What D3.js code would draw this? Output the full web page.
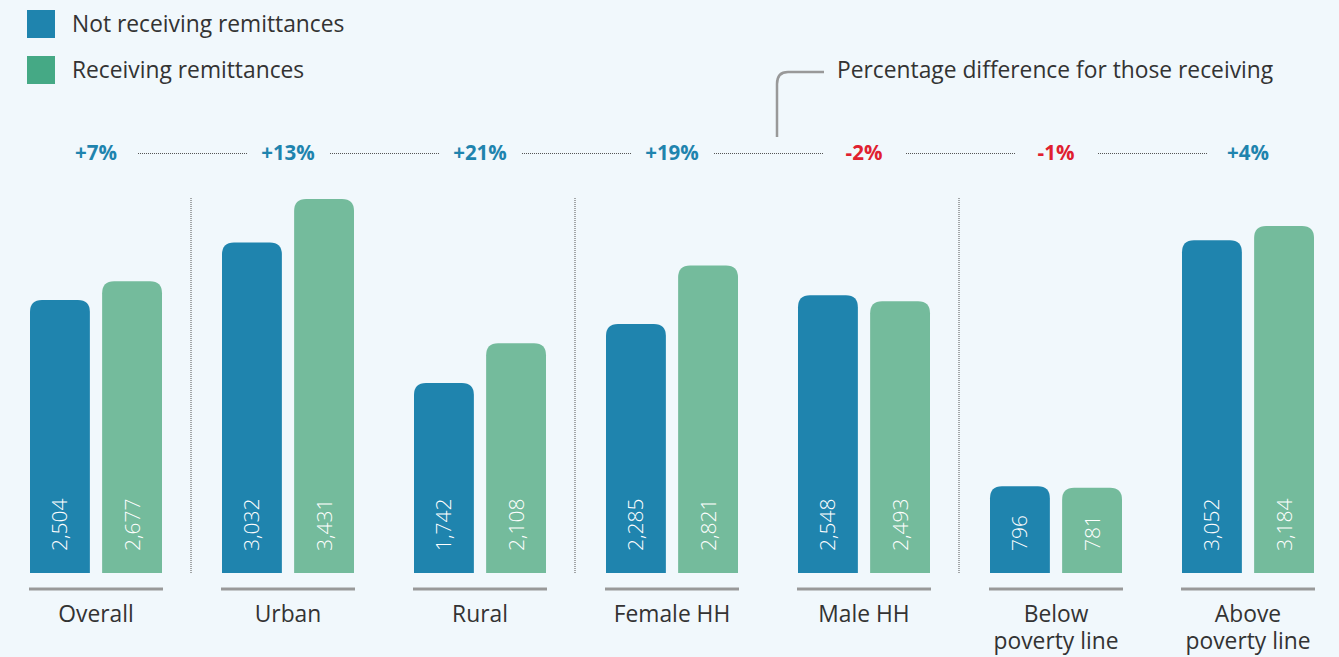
<!DOCTYPE html>
<html><head><meta charset="utf-8">
<script src="https://cdn.jsdelivr.net/npm/d3@7"></script>
<style>
html,body{margin:0;padding:0;background:#f1f8fc;}
svg{display:block;font-family:"Open Sans",sans-serif;}
</style></head>
<body>
<svg id="chart" width="1339" height="657"></svg>
<script>
const categories = ["Overall","Urban","Rural","Female HH","Male HH","Below\npoverty line","Above\npoverty line"];
const notReceiving = [2504,3032,1742,2285,2548,796,3052];
const receiving = [2677,3431,2108,2821,2493,781,3184];
const pctDiff = ["+7%","+13%","+21%","+19%","-2%","-1%","+4%"];
const seriesNames = ["Not receiving remittances","Receiving remittances"];
const separatorsAfter = [0,2,4]; // dotted separators after these groups

const svg = d3.select("#chart");
const blue = "#1f84ae", green = "#74bb9c", legendGreen = "#45a985";

const x0 = d3.scaleBand().domain(categories).range([-2, 1342]).paddingInner(0).paddingOuter(0);
const x1 = d3.scaleBand().domain([0,1]).range([32, 164]).paddingInner(0.17);
const y = d3.scaleLinear().domain([0, 3431]).range([573, 199]);

function topRounded(x, yTop, w, h, r){
  r = Math.min(r, h, w/2);
  return `M${x},${yTop+h}V${yTop+r}Q${x},${yTop} ${x+r},${yTop}H${x+w-r}Q${x+w},${yTop} ${x+w},${yTop+r}V${yTop+h}Z`;
}

const groups = svg.selectAll("g.grp").data(categories).join("g")
  .attr("transform", d => `translate(${x0(d)},0)`);

const cxLocal = (x1(0)+x1(1)+x1.bandwidth())/2;

categories.forEach((c,i)=>{
  const g = d3.select(groups.nodes()[i]);
  [[notReceiving[i],blue],[receiving[i],green]].forEach(([v,col],k)=>{
    const bx = x1(k), bw = x1.bandwidth();
    g.append("path").attr("d", topRounded(bx, y(v), bw, y(0)-y(v), 12)).attr("fill", col);
    g.append("text").attr("transform", `translate(${bx+bw/2+7.5},${y(0)-22}) rotate(-90)`)
      .attr("fill","#fff").attr("font-size",21).attr("font-weight",300).attr("text-anchor","start")
      .text(d3.format(",")(v));
  });
  g.append("line").attr("x1", x1(0)-1).attr("x2", x1(1)+x1.bandwidth()+1)
    .attr("y1",589).attr("y2",589).attr("stroke","#999").attr("stroke-width",3);
  const lines = c.split("\n");
  const t = g.append("text").attr("x",cxLocal).attr("y",622).attr("text-anchor","middle")
      .attr("font-size",22.8).attr("fill","#333");
  lines.forEach((ln,j)=>{
    t.append("tspan").attr("x",cxLocal).attr("dy", j===0 ? 0 : 27).text(ln);
  });
  g.append("text").attr("x",cxLocal).attr("y",160).attr("text-anchor","middle")
    .attr("font-size",20.5).attr("font-weight",700)
    .attr("fill", pctDiff[i].startsWith("-") ? "#e0202f" : "#1f84ae").text(pctDiff[i]);
});

const centers = categories.map(c => x0(c) + cxLocal);
for(let i=0;i<centers.length-1;i++){
  svg.append("line").attr("x1",centers[i]+42).attr("x2",centers[i+1]-40)
    .attr("y1",153.5).attr("y2",153.5).attr("stroke","#555").attr("stroke-width",1)
    .attr("stroke-dasharray","1,1");
}
separatorsAfter.forEach(i=>{
  const sx = (centers[i]+centers[i+1])/2 - 1;
  svg.append("line").attr("x1",sx).attr("x2",sx).attr("y1",198).attr("y2",574)
    .attr("stroke","#555").attr("stroke-width",1).attr("stroke-dasharray","1,1");
});

[blue, legendGreen].forEach((col,k)=>{
  svg.append("rect").attr("x",27).attr("y",10+k*46).attr("width",28).attr("height",28).attr("fill",col);
  svg.append("text").attr("x",72).attr("y",32+k*46).attr("font-size",22.8).attr("fill","#333").text(seriesNames[k]);
});

svg.append("path").attr("d","M824,72H788Q777,72 777,84V137")
  .attr("fill","none").attr("stroke","#999").attr("stroke-width",2.5);
svg.append("text").attr("x",837).attr("y",78).attr("font-size",22.8).attr("fill","#333")
  .text("Percentage difference for those receiving");
</script>
</body></html>
